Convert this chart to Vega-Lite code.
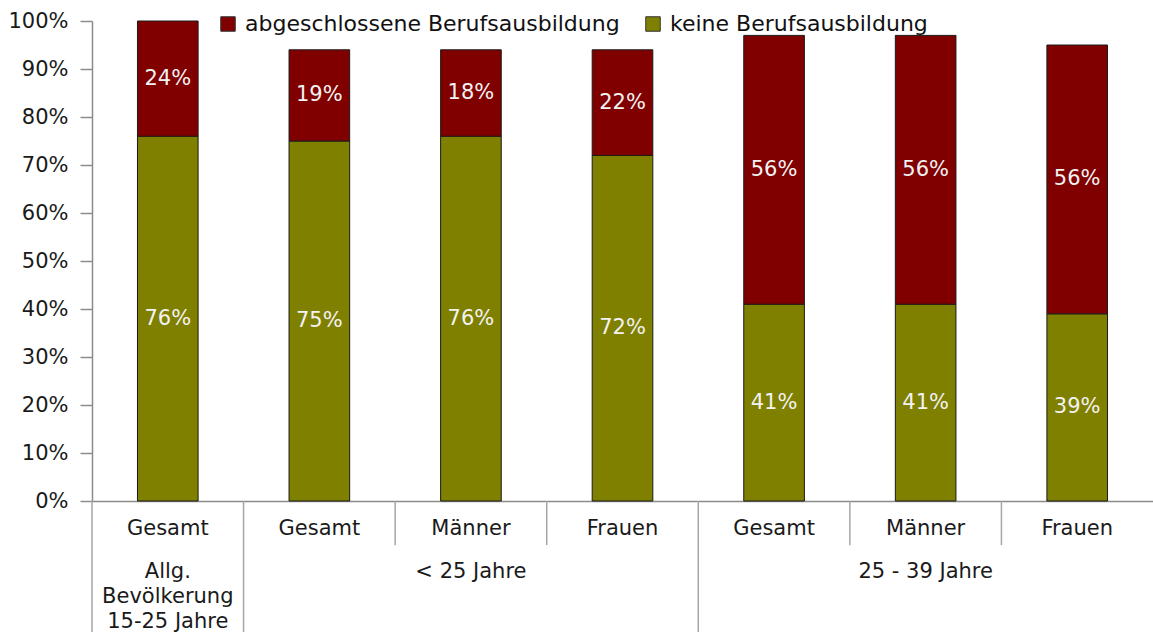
{
  "$schema": "https://vega.github.io/schema/vega-lite/v6.json",
  "autosize": {"type": "none"},
  "padding": {"left": 92, "top": 21, "right": 0, "bottom": 131},
  "width": 1061,
  "height": 480,
  "background": "white",
  "config": {
    "view": {"stroke": null},
    "font": "DejaVu Sans",
    "text": {"font": "DejaVu Sans", "fontSize": 21}
  },
  "datasets": {
    "bars": [
      {"cat": "c1", "sub": "Gesamt", "type": "keine Berufsausbildung", "ord": 1, "value": 0.76},
      {"cat": "c1", "sub": "Gesamt", "type": "abgeschlossene Berufsausbildung", "ord": 2, "value": 0.24},
      {"cat": "c2", "sub": "Gesamt", "type": "keine Berufsausbildung", "ord": 1, "value": 0.75},
      {"cat": "c2", "sub": "Gesamt", "type": "abgeschlossene Berufsausbildung", "ord": 2, "value": 0.19},
      {"cat": "c3", "sub": "Männer", "type": "keine Berufsausbildung", "ord": 1, "value": 0.76},
      {"cat": "c3", "sub": "Männer", "type": "abgeschlossene Berufsausbildung", "ord": 2, "value": 0.18},
      {"cat": "c4", "sub": "Frauen", "type": "keine Berufsausbildung", "ord": 1, "value": 0.72},
      {"cat": "c4", "sub": "Frauen", "type": "abgeschlossene Berufsausbildung", "ord": 2, "value": 0.22},
      {"cat": "c5", "sub": "Gesamt", "type": "keine Berufsausbildung", "ord": 1, "value": 0.41},
      {"cat": "c5", "sub": "Gesamt", "type": "abgeschlossene Berufsausbildung", "ord": 2, "value": 0.56},
      {"cat": "c6", "sub": "Männer", "type": "keine Berufsausbildung", "ord": 1, "value": 0.41},
      {"cat": "c6", "sub": "Männer", "type": "abgeschlossene Berufsausbildung", "ord": 2, "value": 0.56},
      {"cat": "c7", "sub": "Frauen", "type": "keine Berufsausbildung", "ord": 1, "value": 0.39},
      {"cat": "c7", "sub": "Frauen", "type": "abgeschlossene Berufsausbildung", "ord": 2, "value": 0.56}
    ],
    "dividers": [
      {"cat": "c1", "kind": "long"},
      {"cat": "c2", "kind": "long"},
      {"cat": "c3", "kind": "short"},
      {"cat": "c4", "kind": "short"},
      {"cat": "c5", "kind": "long"},
      {"cat": "c6", "kind": "short"},
      {"cat": "c7", "kind": "short"}
    ],
    "groups": [
      {"cat": "c1", "label": ["Allg.", "Bevölkerung", "15-25 Jahre"]},
      {"cat": "c3", "label": "< 25 Jahre"},
      {"cat": "c6", "label": "25 - 39 Jahre"}
    ]
  },
  "layer": [
    {
      "data": {"name": "bars"},
      "mark": {"type": "bar", "width": {"band": 0.4}, "stroke": "#1a1a1a", "strokeWidth": 1},
      "encoding": {
        "x": {
          "field": "cat", "type": "nominal", "sort": null,
          "scale": {"paddingInner": 0, "paddingOuter": 0},
          "axis": {"labels": false, "ticks": false, "title": null, "domainColor": "#8c8c8c", "domainWidth": 1.5}
        },
        "y": {
          "field": "value", "type": "quantitative", "stack": "zero",
          "scale": {"domain": [0, 1], "nice": false},
          "axis": {
            "title": null, "format": ".0%", "values": [0, 0.1, 0.2, 0.3, 0.4, 0.5, 0.6, 0.7, 0.8, 0.9, 1],
            "grid": false, "domainColor": "#8c8c8c", "domainWidth": 1.5, "tickColor": "#8c8c8c",
            "tickSize": 12, "tickWidth": 1.5, "labelPadding": 12, "labelFontSize": 21, "labelColor": "#1a1a1a",
            "labelFont": "DejaVu Sans"
          }
        },
        "order": {"field": "ord", "type": "quantitative"},
        "color": {
          "field": "type", "type": "nominal",
          "scale": {"domain": ["abgeschlossene Berufsausbildung", "keine Berufsausbildung"], "range": ["#800000", "#808000"]},
          "legend": {
            "title": null, "orient": "none", "direction": "horizontal", "legendX": 125, "legendY": -8,
            "symbolType": "square", "symbolSize": 210, "symbolStrokeColor": "#333", "symbolStrokeWidth": 1,
            "labelFontSize": 22, "labelFont": "DejaVu Sans", "labelColor": "#111", "labelLimit": 600,
            "columnPadding": 22, "labelOffset": 6
          }
        }
      }
    },
    {
      "data": {"name": "bars"},
      "transform": [
        {"stack": "value", "groupby": ["cat"], "sort": [{"field": "ord"}], "as": ["y0", "y1"]},
        {"calculate": "(datum.y0 + datum.y1) / 2", "as": "mid"}
      ],
      "mark": {"type": "text", "color": "#f2f2f2", "baseline": "middle", "align": "center", "fontSize": 21},
      "encoding": {
        "x": {"field": "cat", "type": "nominal", "sort": null},
        "y": {"field": "mid", "type": "quantitative"},
        "text": {"field": "value", "type": "quantitative", "format": ".0%"}
      }
    },
    {
      "data": {"name": "bars"},
      "transform": [{"filter": "datum.ord == 1"}],
      "mark": {"type": "text", "color": "#1a1a1a", "baseline": "middle", "align": "center", "fontSize": 21},
      "encoding": {
        "x": {"field": "cat", "type": "nominal", "sort": null},
        "y": {"datum": -0.058},
        "text": {"field": "sub"}
      }
    },
    {
      "data": {"name": "groups"},
      "mark": {"type": "text", "color": "#1a1a1a", "baseline": "top", "align": "center", "lineHeight": 25, "fontSize": 21},
      "encoding": {
        "x": {"field": "cat", "type": "nominal", "sort": null},
        "y": {"datum": -0.125},
        "text": {"field": "label"}
      }
    },
    {
      "data": {"name": "dividers"},
      "transform": [{"filter": "datum.kind == 'short'"}],
      "mark": {"type": "rule", "color": "#a6a6a6", "strokeWidth": 1.5},
      "encoding": {
        "x": {"field": "cat", "type": "nominal", "sort": null, "bandPosition": 0},
        "y": {"datum": 0},
        "y2": {"datum": -0.092}
      }
    },
    {
      "data": {"name": "dividers"},
      "transform": [{"filter": "datum.kind == 'long'"}],
      "mark": {"type": "rule", "color": "#a6a6a6", "strokeWidth": 1.5},
      "encoding": {
        "x": {"field": "cat", "type": "nominal", "sort": null, "bandPosition": 0},
        "y": {"datum": 0},
        "y2": {"datum": -0.3}
      }
    }
  ]
}
